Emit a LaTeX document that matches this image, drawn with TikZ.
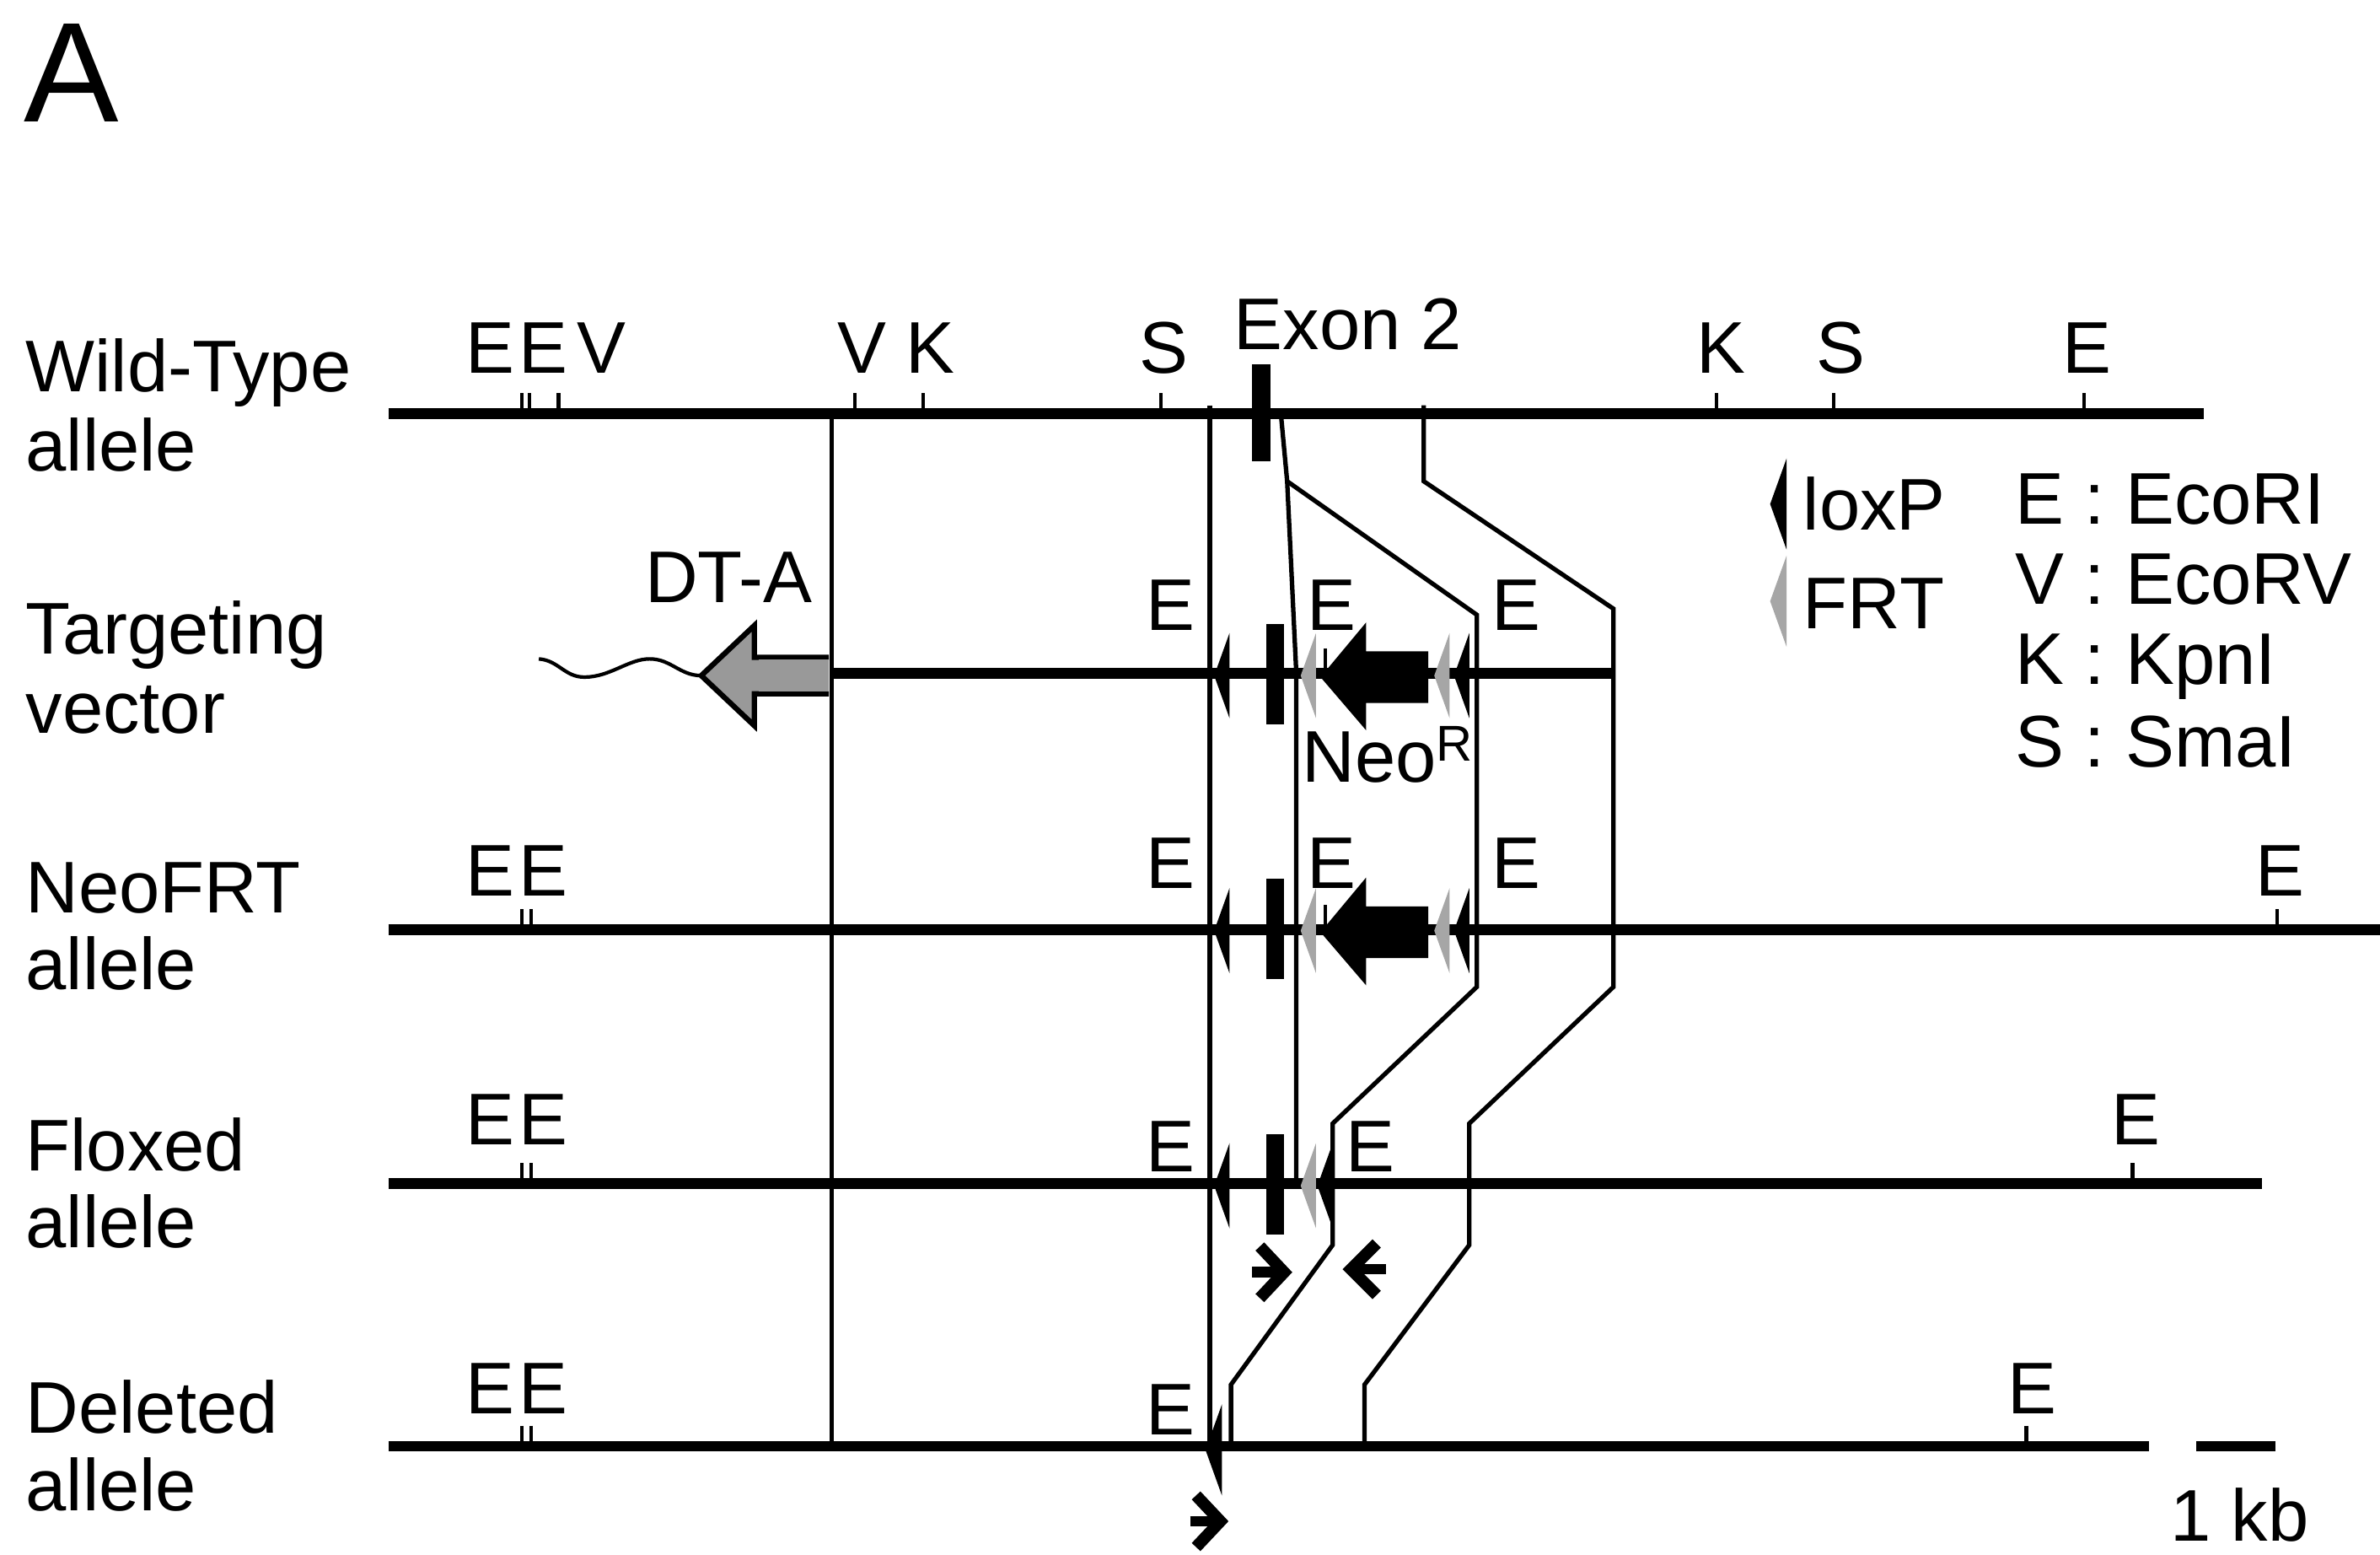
\documentclass[tikz,border=0pt]{standalone}
\usepackage{fontspec}
\setmainfont{Liberation Sans}
\definecolor{frtgray}{HTML}{A6A6A6}
\definecolor{dtgray}{HTML}{999999}
\tikzset{
  x=0.018004cm,y=-0.017998cm,
  txt/.style={inner sep=0pt,outer sep=0pt,anchor=base west,font=\fontsize{24.7}{29}\selectfont,text=black},
  ctr/.style={txt,anchor=base},
  dna/.style={line width=3.6pt,black},
  homol/.style={line width=1.5pt,black,line join=miter},
  tick/.style={line width=1.2pt,black},
  exonbar/.style={fill=black,draw=none},
  primer/.style={line width=3.6pt,black},
  primerhead/.style={line width=4pt,black,line join=miter},
}
\newcommand{\kite}[4]{% colour, right x, y, half height
  \fill[#1] (#2,#3-#4) -- (#2-#4*0.36,#3) -- (#2,#3+#4) -- cycle;}
\newcommand{\tickmark}[3]{\draw[tick] (#1,#2) -- (#1,#3);}
\begin{document}
\begin{tikzpicture}
\useasboundingbox (0,0) rectangle (1568,1024);
\fill[white] (0,0) rectangle (1568,1024);
% panel letter
\node[txt,font=\fontsize{48}{55}\selectfont] (panel) at (16,80) {A};
% row labels
\node[txt] (wt1) at (17,258) {Wild-Type};
\node[txt] (wt2) at (17,310) {allele};
\node[txt] (tv1) at (17,431) {Targeting};
\node[txt] (tv2) at (17,483) {vector};
\node[txt] (ne1) at (17,601) {NeoFRT};
\node[txt] (ne2) at (17,652) {allele};
\node[txt] (fl1) at (17,771) {Floxed};
\node[txt] (fl2) at (17,822) {allele};
\node[txt] (de1) at (17,944) {Deleted};
\node[txt] (de2) at (17,995) {allele};
% end points
\coordinate (wtL) at (256,272.5); \coordinate (wtR) at (1452,272.5);
\coordinate (tvL) at (548,443.5); \coordinate (tvR) at (1063,443.5);
\coordinate (neL) at (256,612.5); \coordinate (neR) at (1568,612.5);
\coordinate (flL) at (256,779.5); \coordinate (flR) at (1490,779.5);
\coordinate (deL) at (256,952.5); \coordinate (deR) at (1416,952.5);
\coordinate (sbL) at (1447,952.5); \coordinate (sbR) at (1499,952.5);
% homology lines
\coordinate (v1t) at (548,272); \coordinate (v1b) at (548,952);
\coordinate (v2t) at (797,267); \coordinate (v2b) at (797,952);
\draw[homol] (v1t) -- (v1b);
\draw[homol] (v2t) -- (v2b);
\draw[homol] (844,274) -- (848,317) -- (854,443) -- (854,779);
\draw[homol] (848,317) -- (973,405) -- (973,650) -- (878,740) -- (878,820) -- (811,912) -- (811,952);
\draw[homol] (938,267) -- (938,317) -- (1063,401) -- (1063,650) -- (968,740) -- (968,820) -- (899,912) -- (899,952);
% DNA lines
\draw[dna] (wtL) -- (wtR);
\draw[dna] (tvL) -- (tvR);
\draw[dna] (neL) -- (neR);
\draw[dna] (flL) -- (flR);
\draw[dna] (deL) -- (deR);
\draw[dna] (sbL) -- (sbR);
% ticks
\foreach \x in {344,349,368,563,608,765,1131,1208,1373} {\tickmark{\x}{259}{272}}
\foreach \x in {344,350,1500} {\tickmark{\x}{599}{612}}
\foreach \x in {344,350,1405} {\tickmark{\x}{766}{779}}
\foreach \x in {344,350,1335} {\tickmark{\x}{939}{952}}
\tickmark{873}{427}{443}
\tickmark{873}{596}{612}
% exons
\fill[exonbar] (825,240) rectangle (837,304);
\fill[exonbar] (834,411) rectangle (846,477);
\fill[exonbar] (834,579) rectangle (846,645);
\fill[exonbar] (834,747) rectangle (846,813);
% targeting vector elements
\kite{black}{810}{445}{28}
\kite{frtgray}{867}{445}{28}
\fill[black] (870,446) -- (900,410) -- (900,429) -- (941,429) -- (941,463) -- (900,463) -- (900,481) -- cycle;
\kite{frtgray}{955}{445}{28}
\kite{black}{968}{445}{28}
% NeoFRT elements
\kite{black}{810}{613}{28}
\kite{frtgray}{867}{613}{28}
\fill[black] (870,614) -- (900,578) -- (900,597) -- (941,597) -- (941,631) -- (900,631) -- (900,649) -- cycle;
\kite{frtgray}{955}{613}{28}
\kite{black}{968}{613}{28}
% Floxed elements
\kite{black}{810}{781}{28}
\kite{frtgray}{867}{781}{28}
\kite{black}{878}{781}{28}
% Deleted elements
\kite{black}{805}{955}{30}
% legend kites
\kite{black}{1177}{332}{30}
\kite{frtgray}{1177}{396}{30}
% DT-A cassette
\draw[line width=1.2pt,black] (462,445) .. controls (448,445) and (442,434) .. (428,434) .. controls (414,434) and (402,446) .. (385,446) .. controls (372,446) and (368,435) .. (355,434);
\draw[line width=1.8pt,black,fill=dtgray,line join=miter] (546,433) -- (497,433) -- (497,412) -- (462,445) -- (497,478) -- (497,457) -- (546,457);
\fill[dtgray] (500,434.5) rectangle (546,455.5);
% primers
\draw[primer] (825,838) -- (846,838);
\draw[primerhead] (830,821) -- (846,838) -- (830,855);
\draw[primer] (913,836) -- (892,836);
\draw[primerhead] (907,819) -- (890,836) -- (907,853);
\draw[primer] (784,1002) -- (805,1002);
\draw[primerhead] (788,985) -- (804,1002) -- (788,1019);
% top row labels
\node[ctr] (wE1) at (323,246) {E};
\node[ctr] (wE2) at (358,246) {E};
\node[ctr] (wV1) at (396,246) {V};
\node[ctr] (wV2) at (568,246) {V};
\node[ctr] (wK1) at (613,246) {K};
\node[ctr] (wS1) at (767,246) {S};
\node[txt] (exon) at (813,230) {Exon 2};
\node[ctr] (wK2) at (1134,246) {K};
\node[ctr] (wS2) at (1213,246) {S};
\node[ctr] (wE3) at (1375,246) {E};
% targeting
\node[txt] (dta) at (425,397) {DT-A};
\node[ctr] (tE1) at (771,415) {E};
\node[ctr] (tE2) at (877,415) {E};
\node[ctr] (tE3) at (999,415) {E};
\node[txt] (neo) at (858,515) {Neo\raisebox{0.28em}{\fontsize{17}{20}\selectfont R}};
% NeoFRT
\node[ctr] (nE1) at (323,590) {E};
\node[ctr] (nE2) at (358,590) {E};
\node[ctr] (nE3) at (771,585) {E};
\node[ctr] (nE4) at (877,585) {E};
\node[ctr] (nE5) at (999,585) {E};
\node[ctr] (nE6) at (1502,590) {E};
% Floxed
\node[ctr] (fE1) at (323,754) {E};
\node[ctr] (fE2) at (358,754) {E};
\node[ctr] (fE3) at (771,772) {E};
\node[ctr] (fE4) at (903,772) {E};
\node[ctr] (fE5) at (1407,754) {E};
% Deleted
\node[ctr] (dE1) at (323,931) {E};
\node[ctr] (dE2) at (358,931) {E};
\node[ctr] (dE3) at (771,945) {E};
\node[ctr] (dE4) at (1339,931) {E};
% legend
\node[txt] (lox) at (1188,349) {loxP};
\node[txt] (frt) at (1188,414) {FRT};
\node[txt] (l1) at (1328,345) {E : EcoRI};
\node[txt] (l2) at (1328,398) {V : EcoRV};
\node[txt] (l3) at (1328,451) {K : KpnI};
\node[txt] (l4) at (1328,505) {S : SmaI};
\node[txt] (kb) at (1430,1015) {1 kb};
\end{tikzpicture}
\end{document}
